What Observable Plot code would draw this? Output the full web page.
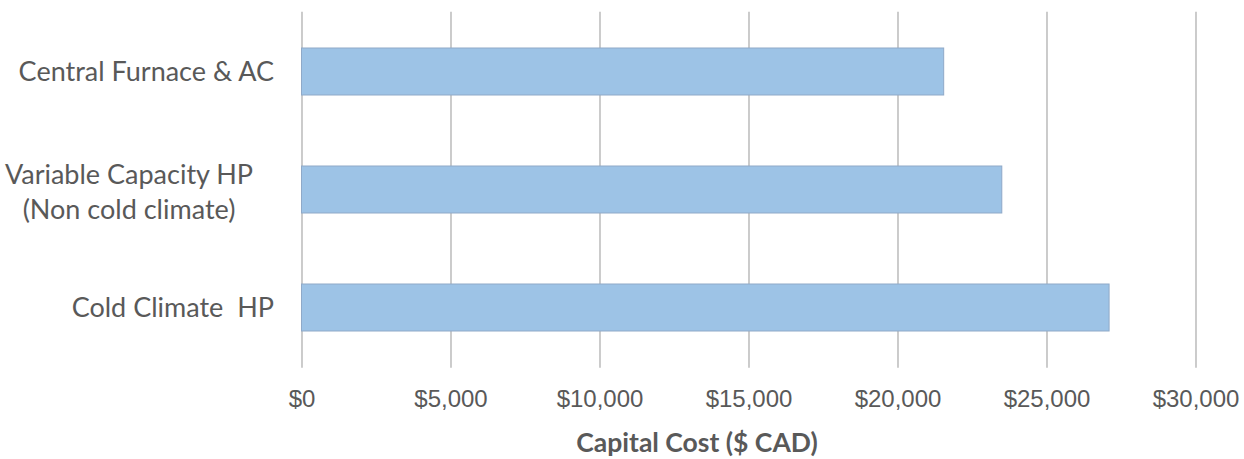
<!DOCTYPE html>
<html>
<head>
<meta charset="utf-8">
<script src="https://cdn.jsdelivr.net/npm/d3@7"></script>
<script src="https://cdn.jsdelivr.net/npm/@observablehq/plot@0.6"></script>
<style>
  html, body { margin: 0; padding: 0; background: #fff; }
  #chart { width: 1244px; height: 459px; }
</style>
</head>
<body>
<div id="chart"></div>
<script>
const categories = ["Central Furnace & AC", "Variable Capacity HP\n(Non cold climate)", "Cold Climate  HP"];
const costs = [21550, 23500, 27100];
const xTicks = [0, 5000, 10000, 15000, 20000, 25000, 30000];
const axisTitle = "Capital Cost ($ CAD)";

const data = categories.map((c, i) => ({category: c, cost: costs[i]}));
const fmt = d3.format("$,");

const chart = Plot.plot({
  width: 1244,
  height: 459,
  marginLeft: 301.5,
  marginRight: 48.5,
  marginTop: 11.7,
  marginBottom: 91.3,
  style: {background: "#fff", color: "#595959"},
  x: {domain: [0, 30000], ticks: xTicks},
  y: {domain: categories, paddingInner: 0.6, paddingOuter: 0.3, axis: null},
  marks: [
    Plot.gridX(xTicks, {stroke: "#bfbfbf", strokeOpacity: 1, strokeWidth: 1.6}),
    Plot.barX(data, {x: "cost", y: "category", fill: "#9DC3E6", stroke: "#8FA9C8", strokeWidth: 1}),
    Plot.axisX(xTicks, {tickSize: 0, tickPadding: 22, tickFormat: fmt, fontSize: 24,
      fontFamily: "Liberation Sans, Arial, sans-serif", fill: "#595959", label: null}),
    Plot.text(data.filter(d => !d.category.includes("\n")), {
      y: "category", text: "category", frameAnchor: "left", textAnchor: "end", dx: -28,
      fontSize: 27, fontFamily: "Lato, sans-serif", fill: "#595959"
    }),
    Plot.text(data.filter(d => d.category.includes("\n")), {
      y: "category", text: "category", frameAnchor: "left", textAnchor: "middle", dx: -173,
      fontSize: 27, lineHeight: 1.3, fontFamily: "Lato, sans-serif", fill: "#595959"
    }),
    Plot.text([axisTitle], {
      text: d => d, frameAnchor: "bottom", dx: -52, dy: 84,
      fontSize: 26.5, fontWeight: "bold", fontFamily: "Lato, sans-serif", fill: "#595959"
    })
  ]
});
document.getElementById("chart").appendChild(chart);
</script>
</body>
</html>
